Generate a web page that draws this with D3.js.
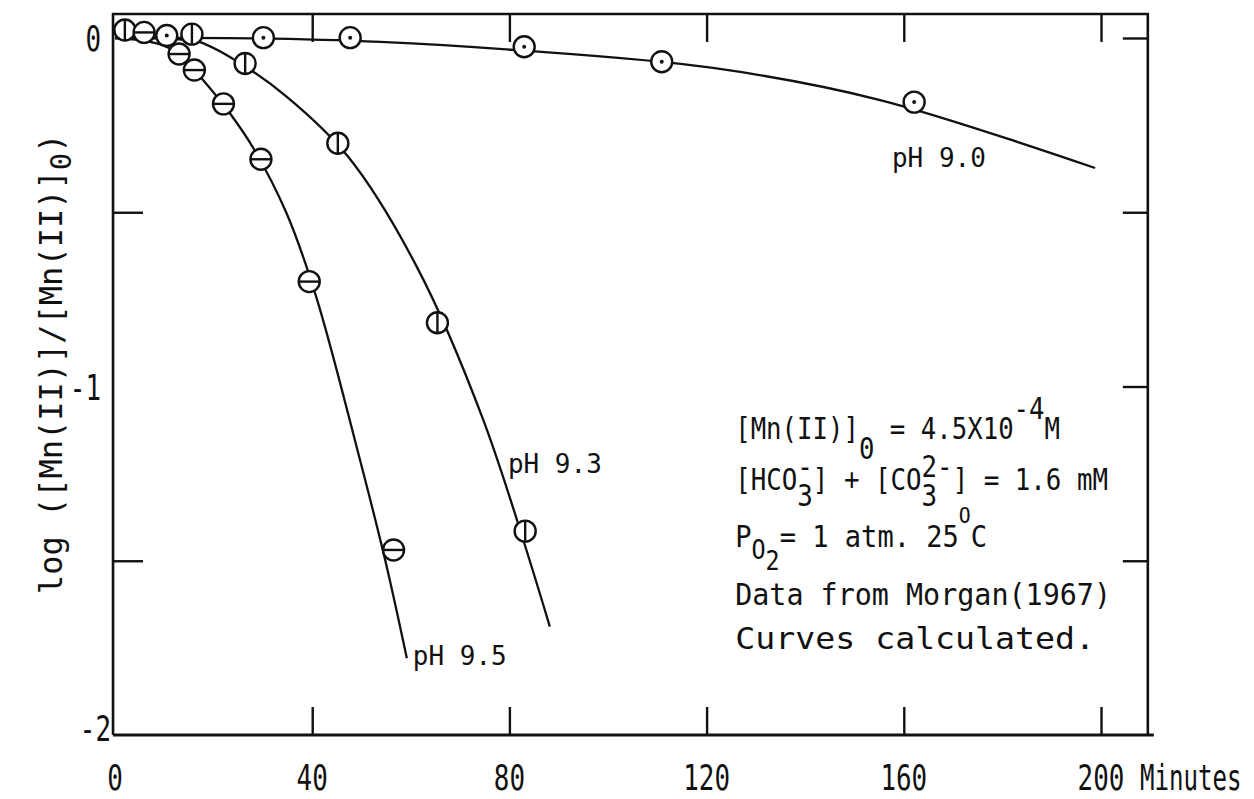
<!DOCTYPE html>
<html>
<head>
<meta charset="utf-8">
<title>Mn(II) oxygenation kinetics</title>
<script src="https://cdn.jsdelivr.net/npm/d3@7/dist/d3.min.js"></script>
<style>
  html, body { margin: 0; padding: 0; background: #fff; }
  svg { display: block; }
  text { font-family: "DejaVu Sans Mono", monospace; fill: #111; white-space: pre; }
</style>
</head>
<body>
<svg id="chart" width="1254" height="799"></svg>
<script>
// ---- data: [minutes, log([Mn(II)]/[Mn(II)]0)] ----
const ph90Measured = [[10.5, 0.007], [30.1, 0.001], [47.7, 0.001], [83.0, -0.025], [110.9, -0.068], [162.1, -0.184]];
const ph93Measured = [[2.0, 0.023], [15.6, 0.011], [26.4, -0.073], [45.2, -0.302], [65.4, -0.817], [83.2, -1.415]];
const ph95Measured = [[5.9, 0.016], [13.0, -0.046], [16.1, -0.092], [22.0, -0.189], [29.6, -0.348], [39.4, -0.699], [56.5, -1.469]];

// calculated curves
const ph90Curve = [[0, 0], [28.0, -0.001], [53.8, -0.011], [80.7, -0.034], [121.3, -0.086],
                   [155.2, -0.178], [198.8, -0.373]];
const ph93Curve = [[0, 0], [8, -0.001], [13, -0.004], [17.2, -0.012], [24.3, -0.063], [34.8, -0.168],
                   [47.3, -0.341], [61.2, -0.656], [74.7, -1.096], [88.2, -1.689]];
const ph95Curve = [[0, 0], [5, -0.006], [9, -0.018], [13, -0.045], [17.6, -0.116], [23.3, -0.216],
                   [28.1, -0.317], [34.8, -0.503], [40.8, -0.742], [49.7, -1.211], [54.8, -1.498], [59.2, -1.780]];

const seriesNames = ["pH 9.0", "pH 9.3", "pH 9.5"];

const xTickValues = [0, 40, 80, 120, 160, 200];
const xTickLabels = ["0", "40", "80", "120", "160", "200"];
const xUnitLabel = "Minutes";
const yTickValues = [0, -1, -2];
const yTickLabels = ["0", "-1", "-2"];

// ---- layout ----
const ink = "#111";
const svg = d3.select("#chart");
const x = d3.scaleLinear().domain([0, 200]).range([115, 1101]);
const y = d3.scaleLinear().domain([0, -2]).range([38, 735]);
const frameT = [-0.4, 209.5];
const frameV = [0.069, -2];

const series = [
  { name: seriesNames[0], measured: ph90Measured, curve: ph90Curve, marker: "dot",  labelAt: [157.6, -0.370] },
  { name: seriesNames[1], measured: ph93Measured, curve: ph93Curve, marker: "vbar", labelAt: [79.7, -1.248] },
  { name: seriesNames[2], measured: ph95Measured, curve: ph95Curve, marker: "hbar", labelAt: [60.4, -1.799] }
];

// frame
svg.append("path")
  .attr("d", `M${x(frameT[0])},${y(frameV[1])} V${y(frameV[0])} H${x(frameT[1])} V${y(frameV[1])}`)
  .attr("fill", "none").attr("stroke", ink).attr("stroke-width", 2.6);
svg.append("path")
  .attr("d", `M${x(frameT[0])},${y(frameV[1])} H${x(frameT[1]) + 6}`)
  .attr("fill", "none").attr("stroke", ink).attr("stroke-width", 2.8);

// inward ticks on all four sides
function ticks(axis, tx, ty) {
  svg.append("g").attr("transform", `translate(${tx},${ty})`)
    .attr("color", ink)
    .call(axis)
    .call(g => g.select(".domain").remove())
    .call(g => g.selectAll("line").attr("stroke-width", 2.4))
    .call(g => g.selectAll("text").remove());
}
const minorT = [40, 80, 120, 160, 200];
ticks(d3.axisTop(x).tickValues(minorT).tickSizeInner(-28).tickSizeOuter(0), 0, y(frameV[0]));
ticks(d3.axisBottom(x).tickValues(minorT).tickSizeInner(-28).tickSizeOuter(0), 0, y(frameV[1]));
ticks(d3.axisLeft(y).tickValues([-0.5, -1.5]).tickSizeInner(-30).tickSizeOuter(0), x(frameT[0]), 0);
ticks(d3.axisRight(y).tickValues([0, -0.5, -1, -1.5]).tickSizeInner(-25).tickSizeOuter(0), x(frameT[1]), 0);

// tick labels (narrow typewriter digits)
const tickFont = 36, squeeze = 0.72, advPage = 0.602 * tickFont * squeeze;
const xBase = 790;
svg.append("g").selectAll("text").data(xTickValues).join("text")
  .attr("transform", d => `translate(${x(d)},${xBase}) scale(${squeeze},1)`)
  .attr("text-anchor", "middle").attr("font-size", tickFont)
  .text((d, i) => xTickLabels[i]);
svg.append("text")
  .attr("transform", `translate(${x(200) + 2.5 * advPage},${xBase}) scale(${squeeze * 0.93},1)`)
  .attr("font-size", tickFont).text(xUnitLabel);

const yLabGap = [12, 12, 2], yLabDrop = [13, 13, 6];
svg.append("g").selectAll("text").data(yTickValues).join("text")
  .attr("transform", (d, i) => `translate(${x(frameT[0]) - yLabGap[i]},${y(d) + yLabDrop[i]}) scale(${squeeze},1)`)
  .attr("text-anchor", "end").attr("font-size", tickFont)
  .text((d, i) => yTickLabels[i]);

// y-axis title
const yTitle = svg.append("text")
  .attr("transform", `translate(62,${y(-0.935)}) rotate(-90)`)
  .attr("text-anchor", "middle").attr("font-size", 32);
yTitle.append("tspan").text("log ([Mn(II)]/[Mn(II)]");
yTitle.append("tspan").attr("dy", 9).attr("font-size", 29).text("0");
yTitle.append("tspan").attr("dy", -9).text(")");

// calculated curves
const line = d3.line().x(d => x(d[0])).y(d => y(d[1])).curve(d3.curveCatmullRom.alpha(0.5));
svg.append("g").selectAll("path").data(series).join("path")
  .attr("d", s => line(s.curve))
  .attr("fill", "none").attr("stroke", ink).attr("stroke-width", 2.3);

// measured points
const R = 10.5;
series.forEach(s => {
  const m = svg.append("g").selectAll("g").data(s.measured).join("g")
    .attr("transform", d => `translate(${x(d[0])},${y(d[1])})`);
  m.append("circle").attr("r", R).attr("fill", "#fff").attr("stroke", ink).attr("stroke-width", 2.4);
  if (s.marker === "dot") m.append("circle").attr("r", 2).attr("fill", ink);
  if (s.marker === "vbar") m.append("line").attr("y1", -R).attr("y2", R).attr("stroke", ink).attr("stroke-width", 2.4);
  if (s.marker === "hbar") m.append("line").attr("x1", -R).attr("x2", R).attr("stroke", ink).attr("stroke-width", 2.4);
});

// curve labels
svg.append("g").selectAll("text").data(series).join("text")
  .attr("x", s => x(s.labelAt[0])).attr("y", s => y(s.labelAt[1]))
  .attr("font-size", 26).text(s => s.name);

// experimental conditions note
const noteX = x(125.8);
const noteBase = y(-1.1507);
const noteFont = 30, adv = 0.602 * noteFont;
const noteLines = [
  { dy: 0, width: 325, parts: [
    { t: "[Mn(II)]" }, { t: "0", shift: 20 }, { t: " = 4.5X10" }, { t: "-4", shift: -20 }, { t: "M" }] },
  { dy: 51, width: 373, parts: [
    { t: "[HCO" }, { t: "3", shift: 16 }, { t: "-", shift: -13, back: 1 }, { t: "] + [CO" },
    { t: "3", shift: 16 }, { t: "2-", shift: -13, back: 1 }, { t: "] = 1.6 mM" }] },
  { dy: 108, width: 252, parts: [
    { t: "P" }, { t: "O", shift: 12, size: 26 }, { t: "2", shift: 23, size: 26 }, { t: "= 1 atm. 25" },
    { t: "O", shift: -24, size: 22 }, { t: "C" }] },
  { dy: 166, width: 376, parts: [{ t: "Data from Morgan(1967)" }] },
  { dy: 210, width: 360, parts: [{ t: "Curves calculated." }] }
];
noteLines.forEach(L => {
  const t = svg.append("text").attr("x", noteX).attr("y", noteBase + L.dy).attr("font-size", noteFont);
  let cur = 0;
  L.parts.forEach(p => {
    const sh = p.shift || 0;
    const ts = t.append("tspan").attr("dy", sh - cur).text(p.t);
    if (p.back) ts.attr("dx", -p.back * adv);
    if (p.size) ts.attr("font-size", p.size);
    cur = sh;
  });
  const w = t.node().getBBox().width;
  const k = L.width / w;
  t.attr("transform", `translate(${noteX},0) scale(${k},1) translate(${-noteX},0)`);
});
</script>
</body>
</html>
